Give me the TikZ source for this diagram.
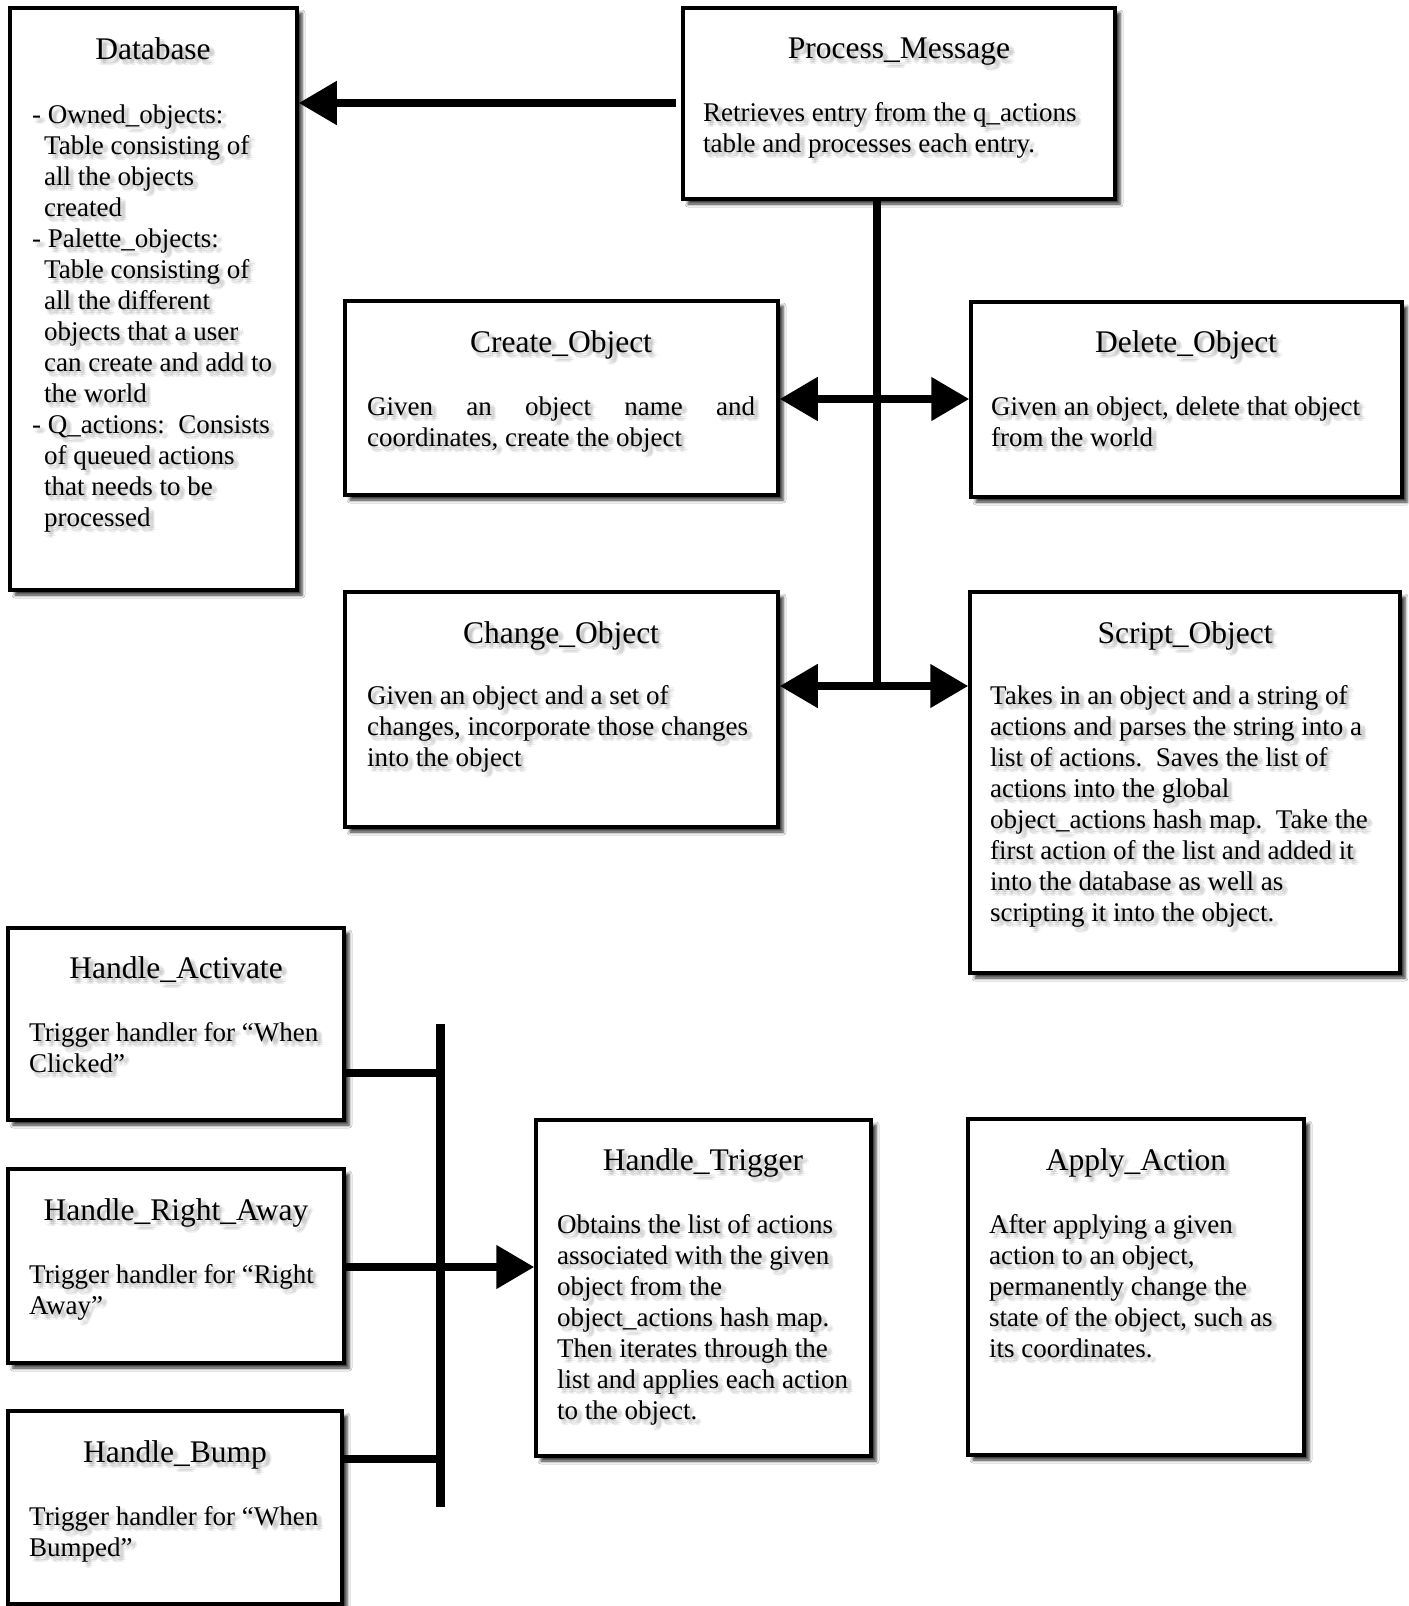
\documentclass[tikz,border=0pt]{standalone}
\usepackage{fontspec}
\setmainfont{Liberation Serif}
\usetikzlibrary{arrows.meta,fit,shadows.blur}
\tikzset{
  x=1pt, y=-1pt,
  >={Triangle[length=38pt,width=42pt]},
  box/.style={draw=black, line width=3.5pt, fill=white, inner sep=0pt, rectangle,
    blur shadow={shadow xshift=5pt, shadow yshift=-5pt, shadow blur radius=3pt, shadow opacity=80}},
  ttl/.style={font=\fontsize{31.5}{36}\selectfont, anchor=base, inner sep=0pt},
  bdy/.style={font=\fontsize{27}{31}\selectfont, anchor=north west, align=left, inner sep=0pt},
  conn/.style={line width=8pt, draw=black},
}
\newcommand\shtxt[5]{%
  \foreach \dx/\dy in {2/2,4/4,2/5,5/2,4/6,6/4}{%
    \node[#2, text=gray, text opacity=0.13, xshift=\dx pt, yshift=-\dy pt] at (#3,#4) {#5};}%
  \node[#2] (#1) at (#3,#4) {#5};}
\newcommand\ttltxt[4]{\shtxt{#1}{ttl}{#2}{#3}{#4}}
\newcommand\bdytxt[4]{\shtxt{#1}{bdy}{#2}{#3-22}{\rule{0pt}{22pt}#4}}
\begin{document}
\begin{tikzpicture}
\fill[white] (0,0) rectangle (1408,1606);
\useasboundingbox (0,0) rectangle (1408,1606);

% boxes
\node[box, fit={(10,8) (297,590)}] (db) {};
\node[box, fit={(683,8) (1115,199)}] (pm) {};
\node[box, fit={(345,301) (778,495)}] (co) {};
\node[box, fit={(971,302) (1402,497)}] (do) {};
\node[box, fit={(345,592) (778,827)}] (ch) {};
\node[box, fit={(970,592) (1400,973)}] (sc) {};
\node[box, fit={(8,928) (344,1120)}] (ha) {};
\node[box, fit={(8,1169) (344,1363)}] (hr) {};
\node[box, fit={(8,1411) (342,1604)}] (hb) {};
\node[box, fit={(536,1120) (871,1456)}] (ht) {};
\node[box, fit={(968,1119) (1304,1455)}] (aa) {};

% connectors
\coordinate (yA) at (676,103);
\draw[conn,->] (yA) -- (db.east |- yA);
\coordinate (tr) at (877,686);
\draw[conn] (pm.south -| tr) -- (tr);
\coordinate (yB) at (0,399);
\draw[conn,<->] (co.east |- yB) -- (do.west |- yB);
\draw[conn,<->] (ch.east |- tr) -- (sc.west |- tr);
\coordinate (bt) at (440,1024);
\coordinate (bb) at (440,1507);
\draw[conn, line width=9pt] (bt) -- (bb);
\coordinate (y1) at (0,1073);
\draw[conn] (ha.east |- y1) -- (bt |- y1);
\coordinate (y2) at (0,1267);
\draw[conn,->] (hr.east |- y2) -- (ht.west |- y2);
\coordinate (y3) at (0,1459);
\draw[conn] (hb.east |- y3) -- (bt |- y3);

% texts
\ttltxt{dbt}{153}{59}{Database}
\bdytxt{dbb}{32}{123}{- Owned\_objects:\\
\hspace*{12pt}Table consisting of\\
\hspace*{12pt}all the objects\\
\hspace*{12pt}created\\
- Palette\_objects:\\
\hspace*{12pt}Table consisting of\\
\hspace*{12pt}all the different\\
\hspace*{12pt}objects that a user\\
\hspace*{12pt}can create and add to\\
\hspace*{12pt}the world\\
- Q\_actions:\ \ Consists\\
\hspace*{12pt}of queued actions\\
\hspace*{12pt}that needs to be\\
\hspace*{12pt}processed}

\ttltxt{pmt}{899}{58}{Process\_Message}
\bdytxt{pmb}{703}{121}{Retrieves entry from the q\_actions\\table and processes each entry.}

\ttltxt{cot}{561}{352}{Create\_Object}
\bdytxt{cob}{367}{415}{\makebox[388pt][s]{Given an object name and}\\coordinates, create the object}

\ttltxt{dot}{1186}{352}{Delete\_Object}
\bdytxt{dob}{991}{415}{Given an object, delete that object\\from the world}

\ttltxt{cht}{561}{643}{Change\_Object}
\bdytxt{chb}{367}{704}{Given an object and a set of\\changes, incorporate those changes\\into the object}

\ttltxt{sct}{1185}{643}{Script\_Object}
\bdytxt{scb}{990}{704}{Takes in an object and a string of\\
actions and parses the string into a\\
list of actions.\ \ Saves the list of\\
actions into the global\\
object\_actions hash map.\ \ Take the\\
first action of the list and added it\\
into the database as well as\\
scripting it into the object.}

\ttltxt{hat}{176}{978}{Handle\_Activate}
\bdytxt{hab}{29}{1041}{Trigger handler for “When\\Clicked”}

\ttltxt{hrt}{176}{1220}{Handle\_Right\_Away}
\bdytxt{hrb}{29}{1283}{Trigger handler for “Right\\Away”}

\ttltxt{hbt}{175}{1462}{Handle\_Bump}
\bdytxt{hbb}{29}{1525}{Trigger handler for “When\\Bumped”}

\ttltxt{htt}{703}{1170}{Handle\_Trigger}
\bdytxt{htb}{557}{1233}{Obtains the list of actions\\
associated with the given\\
object from the\\
object\_actions hash map.\\
Then iterates through the\\
list and applies each action\\
to the object.}

\ttltxt{aat}{1136}{1170}{Apply\_Action}
\bdytxt{aab}{989}{1233}{After applying a given\\
action to an object,\\
permanently change the\\
state of the object, such as\\
its coordinates.}
\end{tikzpicture}
\end{document}
